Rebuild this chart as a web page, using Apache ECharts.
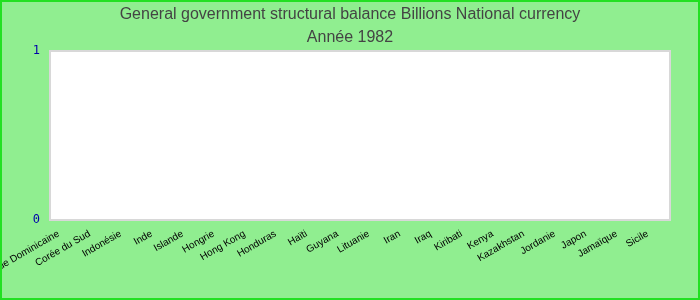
<!DOCTYPE html>
<html>
<head>
<meta charset="utf-8">
<script src="https://cdn.jsdelivr.net/npm/echarts@6/dist/echarts.min.js"></script>
<style>
html,body{margin:0;padding:0;background:#90ee90;}
#c{width:700px;height:300px;box-sizing:border-box;border:2px solid #22e022;}
</style>
</head>
<body>
<div id="c"></div>
<script>
const categories = ["République Dominicaine","Corée du Sud","Indonésie","Inde","Islande","Hongrie","Hong Kong","Honduras","Haïti","Guyana","Lituanie","Iran","Iraq","Kiribati","Kenya","Kazakhstan","Jordanie","Japon","Jamaïque","Sicile"];
const values = [null,null,null,null,null,null,null,null,null,null,null,null,null,null,null,null,null,null,null,null];
const yTicks = [0, 1];
const titleText = "General government structural balance Billions National currency";
const subText = "Année 1982";

const chart = echarts.init(document.getElementById('c'), null, {renderer:'canvas'});
chart.setOption({
  backgroundColor: '#90ee90',
  animation: false,
  title: {
    text: titleText,
    subtext: subText,
    left: 'center',
    top: 0,
    itemGap: 7,
    textStyle: {fontFamily: 'Liberation Sans, Arial', fontSize: 16, fontWeight: 'normal', color: '#444'},
    subtextStyle: {fontFamily: 'Liberation Sans, Arial', fontSize: 16, color: '#444'}
  },
  grid: {left: 48, right: 28, top: 49, bottom: 78, show: true, backgroundColor: '#fff', borderColor: '#d8d8d8', borderWidth: 2, outerBoundsMode: 'none', containLabel: false},
  xAxis: {
    type: 'category',
    data: categories,
    boundaryGap: true,
    axisLine: {show: false},
    axisTick: {show: false},
    axisLabel: {interval: 0, rotate: 30, fontSize: 10, color: '#000', fontFamily: 'Liberation Sans, Arial', margin: 9, padding: [0, 8, 0, 0]}
  },
  yAxis: {
    type: 'value',
    min: yTicks[0],
    max: yTicks[yTicks.length - 1],
    interval: 1,
    splitLine: {show: false},
    axisLine: {show: false},
    axisTick: {show: false},
    axisLabel: {color: '#0000aa', fontFamily: 'DejaVu Sans Mono', fontSize: 12, margin: 10, padding: [8, 0, 0, 0]}
  },
  series: [{type: 'bar', data: values}]
});
</script>
</body>
</html>
